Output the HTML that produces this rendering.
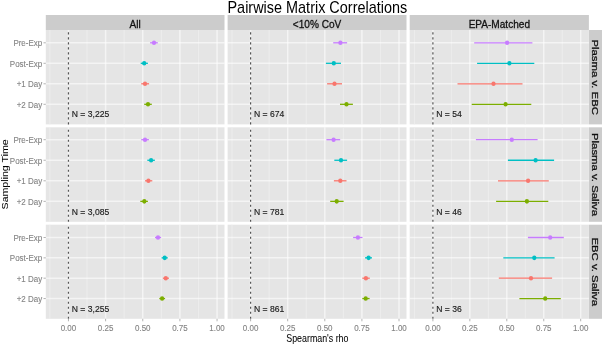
<!DOCTYPE html><html><head><meta charset="utf-8"><style>html,body{margin:0;padding:0;background:#fff;overflow:hidden}svg{display:block}text{font-family:"Liberation Sans",sans-serif}</style></head><body>
<svg width="602" height="344" viewBox="0 0 602 344">
<rect width="602" height="344" fill="#fff"/>
<defs><filter id="b" x="0" y="0" width="1" height="1"><feGaussianBlur stdDeviation="0.4" edgeMode="duplicate"/></filter></defs><g filter="url(#b)"><rect width="602" height="344" fill="#fff"/>
<text transform="translate(317.35,12.6) scale(0.92,1)" text-anchor="middle" font-size="15.7" fill="#000">Pairwise Matrix Correlations</text>
<rect x="45.8" y="15" width="178.7" height="15" fill="#CCCCCC"/>
<text transform="translate(135.15,27.6) scale(0.9,1)" text-anchor="middle" font-size="11.2" fill="#111" stroke="#111" stroke-width="0.3">All</text>
<rect x="227.6" y="15" width="178.9" height="15" fill="#CCCCCC"/>
<text transform="translate(317.05,27.6) scale(0.9,1)" text-anchor="middle" font-size="11.2" fill="#111" stroke="#111" stroke-width="0.3">&lt;10% CoV</text>
<rect x="409.7" y="15" width="179.2" height="15" fill="#CCCCCC"/>
<text transform="translate(499.3,27.6) scale(0.9,1)" text-anchor="middle" font-size="11.2" fill="#111" stroke="#111" stroke-width="0.3">EPA-Matched</text>
<rect x="588.9" y="30" width="13.1" height="94.4" fill="#CCCCCC"/>
<text transform="translate(591.6,77.2) scale(0.855,1) rotate(90)" text-anchor="middle" font-size="11.37" fill="#111" stroke="#111" stroke-width="0.3">Plasma v. EBC</text>
<rect x="588.9" y="127.3" width="13.1" height="94.5" fill="#CCCCCC"/>
<text transform="translate(591.6,174.55) scale(0.855,1) rotate(90)" text-anchor="middle" font-size="11.37" fill="#111" stroke="#111" stroke-width="0.3">Plasma v. Saliva</text>
<rect x="588.9" y="224.7" width="13.1" height="94.1" fill="#CCCCCC"/>
<text transform="translate(591.6,271.75) scale(0.855,1) rotate(90)" text-anchor="middle" font-size="11.37" fill="#111" stroke="#111" stroke-width="0.3">EBC v. Saliva</text>
<rect x="45.8" y="30" width="178.7" height="94.4" fill="#E5E5E5"/>
<line x1="49.88" y1="30" x2="49.88" y2="124.4" stroke="#EFEFEF" stroke-width="0.8"/>
<line x1="87.03" y1="30" x2="87.03" y2="124.4" stroke="#EFEFEF" stroke-width="0.8"/>
<line x1="124.17" y1="30" x2="124.17" y2="124.4" stroke="#EFEFEF" stroke-width="0.8"/>
<line x1="161.32" y1="30" x2="161.32" y2="124.4" stroke="#EFEFEF" stroke-width="0.8"/>
<line x1="198.48" y1="30" x2="198.48" y2="124.4" stroke="#EFEFEF" stroke-width="0.8"/>
<g stroke="#fff" stroke-width="1.5" stroke-opacity="0.58">
<line x1="68.45" y1="30" x2="68.45" y2="124.4"/>
<line x1="105.6" y1="30" x2="105.6" y2="124.4"/>
<line x1="142.75" y1="30" x2="142.75" y2="124.4"/>
<line x1="179.9" y1="30" x2="179.9" y2="124.4"/>
<line x1="217.05" y1="30" x2="217.05" y2="124.4"/>
<line x1="45.8" y1="42.8" x2="224.5" y2="42.8"/>
<line x1="45.8" y1="63.3" x2="224.5" y2="63.3"/>
<line x1="45.8" y1="83.8" x2="224.5" y2="83.8"/>
<line x1="45.8" y1="104.3" x2="224.5" y2="104.3"/>
</g>
<line x1="68.45" y1="124.4" x2="68.45" y2="30" stroke="#555" stroke-width="1.2" stroke-dasharray="2.1 2.9"/>
<line x1="150.1" y1="42.8" x2="157.8" y2="42.8" stroke="#C77CFF" stroke-width="1.3"/>
<ellipse cx="154" cy="42.8" rx="2.12" ry="2.3" fill="#C77CFF"/>
<line x1="140.7" y1="63.3" x2="147.9" y2="63.3" stroke="#00BFC4" stroke-width="1.3"/>
<ellipse cx="144.2" cy="63.3" rx="2.12" ry="2.3" fill="#00BFC4"/>
<line x1="141.2" y1="83.8" x2="149.1" y2="83.8" stroke="#F8766D" stroke-width="1.3"/>
<ellipse cx="145" cy="83.8" rx="2.12" ry="2.3" fill="#F8766D"/>
<line x1="144.2" y1="104.3" x2="151.8" y2="104.3" stroke="#7CAE00" stroke-width="1.3"/>
<ellipse cx="148" cy="104.3" rx="2.12" ry="2.3" fill="#7CAE00"/>
<text transform="translate(71.75,117.2) scale(0.92,1)" font-size="9.35" font-weight="normal" fill="#1a1a1a" stroke="#1a1a1a" stroke-width="0.15">N = 3,225</text>
<rect x="227.6" y="30" width="178.9" height="94.4" fill="#E5E5E5"/>
<line x1="232.05" y1="30" x2="232.05" y2="124.4" stroke="#EFEFEF" stroke-width="0.8"/>
<line x1="269.15" y1="30" x2="269.15" y2="124.4" stroke="#EFEFEF" stroke-width="0.8"/>
<line x1="306.25" y1="30" x2="306.25" y2="124.4" stroke="#EFEFEF" stroke-width="0.8"/>
<line x1="343.35" y1="30" x2="343.35" y2="124.4" stroke="#EFEFEF" stroke-width="0.8"/>
<line x1="380.45" y1="30" x2="380.45" y2="124.4" stroke="#EFEFEF" stroke-width="0.8"/>
<g stroke="#fff" stroke-width="1.5" stroke-opacity="0.58">
<line x1="250.6" y1="30" x2="250.6" y2="124.4"/>
<line x1="287.7" y1="30" x2="287.7" y2="124.4"/>
<line x1="324.8" y1="30" x2="324.8" y2="124.4"/>
<line x1="361.9" y1="30" x2="361.9" y2="124.4"/>
<line x1="399" y1="30" x2="399" y2="124.4"/>
<line x1="227.6" y1="42.8" x2="406.5" y2="42.8"/>
<line x1="227.6" y1="63.3" x2="406.5" y2="63.3"/>
<line x1="227.6" y1="83.8" x2="406.5" y2="83.8"/>
<line x1="227.6" y1="104.3" x2="406.5" y2="104.3"/>
</g>
<line x1="250.6" y1="124.4" x2="250.6" y2="30" stroke="#555" stroke-width="1.2" stroke-dasharray="2.1 2.9"/>
<line x1="333.2" y1="42.8" x2="347.1" y2="42.8" stroke="#C77CFF" stroke-width="1.3"/>
<ellipse cx="340.4" cy="42.8" rx="2.12" ry="2.3" fill="#C77CFF"/>
<line x1="325.9" y1="63.3" x2="341" y2="63.3" stroke="#00BFC4" stroke-width="1.3"/>
<ellipse cx="333.8" cy="63.3" rx="2.12" ry="2.3" fill="#00BFC4"/>
<line x1="327.1" y1="83.8" x2="342" y2="83.8" stroke="#F8766D" stroke-width="1.3"/>
<ellipse cx="334.5" cy="83.8" rx="2.12" ry="2.3" fill="#F8766D"/>
<line x1="340" y1="104.3" x2="352.9" y2="104.3" stroke="#7CAE00" stroke-width="1.3"/>
<ellipse cx="346.5" cy="104.3" rx="2.12" ry="2.3" fill="#7CAE00"/>
<text transform="translate(253.9,117.2) scale(0.92,1)" font-size="9.35" font-weight="normal" fill="#1a1a1a" stroke="#1a1a1a" stroke-width="0.15">N = 674</text>
<rect x="409.7" y="30" width="179.2" height="94.4" fill="#E5E5E5"/>
<line x1="414.42" y1="30" x2="414.42" y2="124.4" stroke="#EFEFEF" stroke-width="0.8"/>
<line x1="451.38" y1="30" x2="451.38" y2="124.4" stroke="#EFEFEF" stroke-width="0.8"/>
<line x1="488.32" y1="30" x2="488.32" y2="124.4" stroke="#EFEFEF" stroke-width="0.8"/>
<line x1="525.27" y1="30" x2="525.27" y2="124.4" stroke="#EFEFEF" stroke-width="0.8"/>
<line x1="562.23" y1="30" x2="562.23" y2="124.4" stroke="#EFEFEF" stroke-width="0.8"/>
<g stroke="#fff" stroke-width="1.5" stroke-opacity="0.58">
<line x1="432.9" y1="30" x2="432.9" y2="124.4"/>
<line x1="469.85" y1="30" x2="469.85" y2="124.4"/>
<line x1="506.8" y1="30" x2="506.8" y2="124.4"/>
<line x1="543.75" y1="30" x2="543.75" y2="124.4"/>
<line x1="580.7" y1="30" x2="580.7" y2="124.4"/>
<line x1="409.7" y1="42.8" x2="588.9" y2="42.8"/>
<line x1="409.7" y1="63.3" x2="588.9" y2="63.3"/>
<line x1="409.7" y1="83.8" x2="588.9" y2="83.8"/>
<line x1="409.7" y1="104.3" x2="588.9" y2="104.3"/>
</g>
<line x1="432.9" y1="124.4" x2="432.9" y2="30" stroke="#555" stroke-width="1.2" stroke-dasharray="2.1 2.9"/>
<line x1="474.2" y1="42.8" x2="532.4" y2="42.8" stroke="#C77CFF" stroke-width="1.3"/>
<ellipse cx="507.1" cy="42.8" rx="2.12" ry="2.3" fill="#C77CFF"/>
<line x1="477.1" y1="63.3" x2="534.3" y2="63.3" stroke="#00BFC4" stroke-width="1.3"/>
<ellipse cx="509.4" cy="63.3" rx="2.12" ry="2.3" fill="#00BFC4"/>
<line x1="457.5" y1="83.8" x2="522.5" y2="83.8" stroke="#F8766D" stroke-width="1.3"/>
<ellipse cx="493.5" cy="83.8" rx="2.12" ry="2.3" fill="#F8766D"/>
<line x1="471.7" y1="104.3" x2="531.3" y2="104.3" stroke="#7CAE00" stroke-width="1.3"/>
<ellipse cx="505.6" cy="104.3" rx="2.12" ry="2.3" fill="#7CAE00"/>
<text transform="translate(436.2,117.2) scale(0.92,1)" font-size="9.35" font-weight="normal" fill="#1a1a1a" stroke="#1a1a1a" stroke-width="0.15">N = 54</text>
<rect x="45.8" y="127.3" width="178.7" height="94.5" fill="#E5E5E5"/>
<line x1="49.88" y1="127.3" x2="49.88" y2="221.8" stroke="#EFEFEF" stroke-width="0.8"/>
<line x1="87.03" y1="127.3" x2="87.03" y2="221.8" stroke="#EFEFEF" stroke-width="0.8"/>
<line x1="124.17" y1="127.3" x2="124.17" y2="221.8" stroke="#EFEFEF" stroke-width="0.8"/>
<line x1="161.32" y1="127.3" x2="161.32" y2="221.8" stroke="#EFEFEF" stroke-width="0.8"/>
<line x1="198.48" y1="127.3" x2="198.48" y2="221.8" stroke="#EFEFEF" stroke-width="0.8"/>
<g stroke="#fff" stroke-width="1.5" stroke-opacity="0.58">
<line x1="68.45" y1="127.3" x2="68.45" y2="221.8"/>
<line x1="105.6" y1="127.3" x2="105.6" y2="221.8"/>
<line x1="142.75" y1="127.3" x2="142.75" y2="221.8"/>
<line x1="179.9" y1="127.3" x2="179.9" y2="221.8"/>
<line x1="217.05" y1="127.3" x2="217.05" y2="221.8"/>
<line x1="45.8" y1="139.7" x2="224.5" y2="139.7"/>
<line x1="45.8" y1="160.25" x2="224.5" y2="160.25"/>
<line x1="45.8" y1="180.8" x2="224.5" y2="180.8"/>
<line x1="45.8" y1="201.35" x2="224.5" y2="201.35"/>
</g>
<line x1="68.45" y1="221.8" x2="68.45" y2="127.3" stroke="#555" stroke-width="1.2" stroke-dasharray="2.1 2.9"/>
<line x1="141.2" y1="139.7" x2="148.9" y2="139.7" stroke="#C77CFF" stroke-width="1.3"/>
<ellipse cx="145" cy="139.7" rx="2.12" ry="2.3" fill="#C77CFF"/>
<line x1="147.3" y1="160.25" x2="154.9" y2="160.25" stroke="#00BFC4" stroke-width="1.3"/>
<ellipse cx="151.1" cy="160.25" rx="2.12" ry="2.3" fill="#00BFC4"/>
<line x1="145" y1="180.8" x2="152.3" y2="180.8" stroke="#F8766D" stroke-width="1.3"/>
<ellipse cx="148.4" cy="180.8" rx="2.12" ry="2.3" fill="#F8766D"/>
<line x1="140.3" y1="201.35" x2="147.9" y2="201.35" stroke="#7CAE00" stroke-width="1.3"/>
<ellipse cx="144.3" cy="201.35" rx="2.12" ry="2.3" fill="#7CAE00"/>
<text transform="translate(71.75,214.5) scale(0.92,1)" font-size="9.35" font-weight="normal" fill="#1a1a1a" stroke="#1a1a1a" stroke-width="0.15">N = 3,085</text>
<rect x="227.6" y="127.3" width="178.9" height="94.5" fill="#E5E5E5"/>
<line x1="232.05" y1="127.3" x2="232.05" y2="221.8" stroke="#EFEFEF" stroke-width="0.8"/>
<line x1="269.15" y1="127.3" x2="269.15" y2="221.8" stroke="#EFEFEF" stroke-width="0.8"/>
<line x1="306.25" y1="127.3" x2="306.25" y2="221.8" stroke="#EFEFEF" stroke-width="0.8"/>
<line x1="343.35" y1="127.3" x2="343.35" y2="221.8" stroke="#EFEFEF" stroke-width="0.8"/>
<line x1="380.45" y1="127.3" x2="380.45" y2="221.8" stroke="#EFEFEF" stroke-width="0.8"/>
<g stroke="#fff" stroke-width="1.5" stroke-opacity="0.58">
<line x1="250.6" y1="127.3" x2="250.6" y2="221.8"/>
<line x1="287.7" y1="127.3" x2="287.7" y2="221.8"/>
<line x1="324.8" y1="127.3" x2="324.8" y2="221.8"/>
<line x1="361.9" y1="127.3" x2="361.9" y2="221.8"/>
<line x1="399" y1="127.3" x2="399" y2="221.8"/>
<line x1="227.6" y1="139.7" x2="406.5" y2="139.7"/>
<line x1="227.6" y1="160.25" x2="406.5" y2="160.25"/>
<line x1="227.6" y1="180.8" x2="406.5" y2="180.8"/>
<line x1="227.6" y1="201.35" x2="406.5" y2="201.35"/>
</g>
<line x1="250.6" y1="221.8" x2="250.6" y2="127.3" stroke="#555" stroke-width="1.2" stroke-dasharray="2.1 2.9"/>
<line x1="326.4" y1="139.7" x2="340.2" y2="139.7" stroke="#C77CFF" stroke-width="1.3"/>
<ellipse cx="333.6" cy="139.7" rx="2.12" ry="2.3" fill="#C77CFF"/>
<line x1="334.3" y1="160.25" x2="347.1" y2="160.25" stroke="#00BFC4" stroke-width="1.3"/>
<ellipse cx="341" cy="160.25" rx="2.12" ry="2.3" fill="#00BFC4"/>
<line x1="333.9" y1="180.8" x2="346.5" y2="180.8" stroke="#F8766D" stroke-width="1.3"/>
<ellipse cx="340.3" cy="180.8" rx="2.12" ry="2.3" fill="#F8766D"/>
<line x1="330.2" y1="201.35" x2="343.6" y2="201.35" stroke="#7CAE00" stroke-width="1.3"/>
<ellipse cx="336.7" cy="201.35" rx="2.12" ry="2.3" fill="#7CAE00"/>
<text transform="translate(253.9,214.5) scale(0.92,1)" font-size="9.35" font-weight="normal" fill="#1a1a1a" stroke="#1a1a1a" stroke-width="0.15">N = 781</text>
<rect x="409.7" y="127.3" width="179.2" height="94.5" fill="#E5E5E5"/>
<line x1="414.42" y1="127.3" x2="414.42" y2="221.8" stroke="#EFEFEF" stroke-width="0.8"/>
<line x1="451.38" y1="127.3" x2="451.38" y2="221.8" stroke="#EFEFEF" stroke-width="0.8"/>
<line x1="488.32" y1="127.3" x2="488.32" y2="221.8" stroke="#EFEFEF" stroke-width="0.8"/>
<line x1="525.27" y1="127.3" x2="525.27" y2="221.8" stroke="#EFEFEF" stroke-width="0.8"/>
<line x1="562.23" y1="127.3" x2="562.23" y2="221.8" stroke="#EFEFEF" stroke-width="0.8"/>
<g stroke="#fff" stroke-width="1.5" stroke-opacity="0.58">
<line x1="432.9" y1="127.3" x2="432.9" y2="221.8"/>
<line x1="469.85" y1="127.3" x2="469.85" y2="221.8"/>
<line x1="506.8" y1="127.3" x2="506.8" y2="221.8"/>
<line x1="543.75" y1="127.3" x2="543.75" y2="221.8"/>
<line x1="580.7" y1="127.3" x2="580.7" y2="221.8"/>
<line x1="409.7" y1="139.7" x2="588.9" y2="139.7"/>
<line x1="409.7" y1="160.25" x2="588.9" y2="160.25"/>
<line x1="409.7" y1="180.8" x2="588.9" y2="180.8"/>
<line x1="409.7" y1="201.35" x2="588.9" y2="201.35"/>
</g>
<line x1="432.9" y1="221.8" x2="432.9" y2="127.3" stroke="#555" stroke-width="1.2" stroke-dasharray="2.1 2.9"/>
<line x1="475.9" y1="139.7" x2="537.6" y2="139.7" stroke="#C77CFF" stroke-width="1.3"/>
<ellipse cx="511.8" cy="139.7" rx="2.12" ry="2.3" fill="#C77CFF"/>
<line x1="507.9" y1="160.25" x2="554.1" y2="160.25" stroke="#00BFC4" stroke-width="1.3"/>
<ellipse cx="535.6" cy="160.25" rx="2.12" ry="2.3" fill="#00BFC4"/>
<line x1="498" y1="180.8" x2="548.8" y2="180.8" stroke="#F8766D" stroke-width="1.3"/>
<ellipse cx="528.1" cy="180.8" rx="2.12" ry="2.3" fill="#F8766D"/>
<line x1="496.1" y1="201.35" x2="548.3" y2="201.35" stroke="#7CAE00" stroke-width="1.3"/>
<ellipse cx="526.9" cy="201.35" rx="2.12" ry="2.3" fill="#7CAE00"/>
<text transform="translate(436.2,214.5) scale(0.92,1)" font-size="9.35" font-weight="normal" fill="#1a1a1a" stroke="#1a1a1a" stroke-width="0.15">N = 46</text>
<rect x="45.8" y="224.7" width="178.7" height="94.1" fill="#E5E5E5"/>
<line x1="49.88" y1="224.7" x2="49.88" y2="318.8" stroke="#EFEFEF" stroke-width="0.8"/>
<line x1="87.03" y1="224.7" x2="87.03" y2="318.8" stroke="#EFEFEF" stroke-width="0.8"/>
<line x1="124.17" y1="224.7" x2="124.17" y2="318.8" stroke="#EFEFEF" stroke-width="0.8"/>
<line x1="161.32" y1="224.7" x2="161.32" y2="318.8" stroke="#EFEFEF" stroke-width="0.8"/>
<line x1="198.48" y1="224.7" x2="198.48" y2="318.8" stroke="#EFEFEF" stroke-width="0.8"/>
<g stroke="#fff" stroke-width="1.5" stroke-opacity="0.58">
<line x1="68.45" y1="224.7" x2="68.45" y2="318.8"/>
<line x1="105.6" y1="224.7" x2="105.6" y2="318.8"/>
<line x1="142.75" y1="224.7" x2="142.75" y2="318.8"/>
<line x1="179.9" y1="224.7" x2="179.9" y2="318.8"/>
<line x1="217.05" y1="224.7" x2="217.05" y2="318.8"/>
<line x1="45.8" y1="237.5" x2="224.5" y2="237.5"/>
<line x1="45.8" y1="257.85" x2="224.5" y2="257.85"/>
<line x1="45.8" y1="278.2" x2="224.5" y2="278.2"/>
<line x1="45.8" y1="298.55" x2="224.5" y2="298.55"/>
</g>
<line x1="68.45" y1="318.8" x2="68.45" y2="224.7" stroke="#555" stroke-width="1.2" stroke-dasharray="2.1 2.9"/>
<line x1="155" y1="237.5" x2="161.1" y2="237.5" stroke="#C77CFF" stroke-width="1.3"/>
<ellipse cx="158" cy="237.5" rx="2.12" ry="2.3" fill="#C77CFF"/>
<line x1="161.6" y1="257.85" x2="167.8" y2="257.85" stroke="#00BFC4" stroke-width="1.3"/>
<ellipse cx="164.7" cy="257.85" rx="2.12" ry="2.3" fill="#00BFC4"/>
<line x1="162.8" y1="278.2" x2="169" y2="278.2" stroke="#F8766D" stroke-width="1.3"/>
<ellipse cx="165.8" cy="278.2" rx="2.12" ry="2.3" fill="#F8766D"/>
<line x1="159.3" y1="298.55" x2="165.1" y2="298.55" stroke="#7CAE00" stroke-width="1.3"/>
<ellipse cx="162.1" cy="298.55" rx="2.12" ry="2.3" fill="#7CAE00"/>
<text transform="translate(71.75,311.9) scale(0.92,1)" font-size="9.35" font-weight="normal" fill="#1a1a1a" stroke="#1a1a1a" stroke-width="0.15">N = 3,255</text>
<rect x="227.6" y="224.7" width="178.9" height="94.1" fill="#E5E5E5"/>
<line x1="232.05" y1="224.7" x2="232.05" y2="318.8" stroke="#EFEFEF" stroke-width="0.8"/>
<line x1="269.15" y1="224.7" x2="269.15" y2="318.8" stroke="#EFEFEF" stroke-width="0.8"/>
<line x1="306.25" y1="224.7" x2="306.25" y2="318.8" stroke="#EFEFEF" stroke-width="0.8"/>
<line x1="343.35" y1="224.7" x2="343.35" y2="318.8" stroke="#EFEFEF" stroke-width="0.8"/>
<line x1="380.45" y1="224.7" x2="380.45" y2="318.8" stroke="#EFEFEF" stroke-width="0.8"/>
<g stroke="#fff" stroke-width="1.5" stroke-opacity="0.58">
<line x1="250.6" y1="224.7" x2="250.6" y2="318.8"/>
<line x1="287.7" y1="224.7" x2="287.7" y2="318.8"/>
<line x1="324.8" y1="224.7" x2="324.8" y2="318.8"/>
<line x1="361.9" y1="224.7" x2="361.9" y2="318.8"/>
<line x1="399" y1="224.7" x2="399" y2="318.8"/>
<line x1="227.6" y1="237.5" x2="406.5" y2="237.5"/>
<line x1="227.6" y1="257.85" x2="406.5" y2="257.85"/>
<line x1="227.6" y1="278.2" x2="406.5" y2="278.2"/>
<line x1="227.6" y1="298.55" x2="406.5" y2="298.55"/>
</g>
<line x1="250.6" y1="318.8" x2="250.6" y2="224.7" stroke="#555" stroke-width="1.2" stroke-dasharray="2.1 2.9"/>
<line x1="353.1" y1="237.5" x2="362.5" y2="237.5" stroke="#C77CFF" stroke-width="1.3"/>
<ellipse cx="357.9" cy="237.5" rx="2.12" ry="2.3" fill="#C77CFF"/>
<line x1="365" y1="257.85" x2="372" y2="257.85" stroke="#00BFC4" stroke-width="1.3"/>
<ellipse cx="368.6" cy="257.85" rx="2.12" ry="2.3" fill="#00BFC4"/>
<line x1="362.3" y1="278.2" x2="369.8" y2="278.2" stroke="#F8766D" stroke-width="1.3"/>
<ellipse cx="365.9" cy="278.2" rx="2.12" ry="2.3" fill="#F8766D"/>
<line x1="362.3" y1="298.55" x2="369.6" y2="298.55" stroke="#7CAE00" stroke-width="1.3"/>
<ellipse cx="365.7" cy="298.55" rx="2.12" ry="2.3" fill="#7CAE00"/>
<text transform="translate(253.9,311.9) scale(0.92,1)" font-size="9.35" font-weight="normal" fill="#1a1a1a" stroke="#1a1a1a" stroke-width="0.15">N = 861</text>
<rect x="409.7" y="224.7" width="179.2" height="94.1" fill="#E5E5E5"/>
<line x1="414.42" y1="224.7" x2="414.42" y2="318.8" stroke="#EFEFEF" stroke-width="0.8"/>
<line x1="451.38" y1="224.7" x2="451.38" y2="318.8" stroke="#EFEFEF" stroke-width="0.8"/>
<line x1="488.32" y1="224.7" x2="488.32" y2="318.8" stroke="#EFEFEF" stroke-width="0.8"/>
<line x1="525.27" y1="224.7" x2="525.27" y2="318.8" stroke="#EFEFEF" stroke-width="0.8"/>
<line x1="562.23" y1="224.7" x2="562.23" y2="318.8" stroke="#EFEFEF" stroke-width="0.8"/>
<g stroke="#fff" stroke-width="1.5" stroke-opacity="0.58">
<line x1="432.9" y1="224.7" x2="432.9" y2="318.8"/>
<line x1="469.85" y1="224.7" x2="469.85" y2="318.8"/>
<line x1="506.8" y1="224.7" x2="506.8" y2="318.8"/>
<line x1="543.75" y1="224.7" x2="543.75" y2="318.8"/>
<line x1="580.7" y1="224.7" x2="580.7" y2="318.8"/>
<line x1="409.7" y1="237.5" x2="588.9" y2="237.5"/>
<line x1="409.7" y1="257.85" x2="588.9" y2="257.85"/>
<line x1="409.7" y1="278.2" x2="588.9" y2="278.2"/>
<line x1="409.7" y1="298.55" x2="588.9" y2="298.55"/>
</g>
<line x1="432.9" y1="318.8" x2="432.9" y2="224.7" stroke="#555" stroke-width="1.2" stroke-dasharray="2.1 2.9"/>
<line x1="527.9" y1="237.5" x2="563.8" y2="237.5" stroke="#C77CFF" stroke-width="1.3"/>
<ellipse cx="550.2" cy="237.5" rx="2.12" ry="2.3" fill="#C77CFF"/>
<line x1="503.3" y1="257.85" x2="554.6" y2="257.85" stroke="#00BFC4" stroke-width="1.3"/>
<ellipse cx="534.3" cy="257.85" rx="2.12" ry="2.3" fill="#00BFC4"/>
<line x1="498.8" y1="278.2" x2="552.1" y2="278.2" stroke="#F8766D" stroke-width="1.3"/>
<ellipse cx="531" cy="278.2" rx="2.12" ry="2.3" fill="#F8766D"/>
<line x1="519.4" y1="298.55" x2="560.8" y2="298.55" stroke="#7CAE00" stroke-width="1.3"/>
<ellipse cx="545.2" cy="298.55" rx="2.12" ry="2.3" fill="#7CAE00"/>
<text transform="translate(436.2,311.9) scale(0.92,1)" font-size="9.35" font-weight="normal" fill="#1a1a1a" stroke="#1a1a1a" stroke-width="0.15">N = 36</text>
<line x1="43.5" y1="42.8" x2="45.8" y2="42.8" stroke="#aaaaaa" stroke-width="0.9"/>
<text transform="translate(42.2,46.4) scale(0.815,1)" text-anchor="end" font-size="9.8" fill="#838383" stroke="#838383" stroke-width="0.12">Pre-Exp</text>
<line x1="43.5" y1="63.3" x2="45.8" y2="63.3" stroke="#aaaaaa" stroke-width="0.9"/>
<text transform="translate(42.2,66.9) scale(0.815,1)" text-anchor="end" font-size="9.8" fill="#838383" stroke="#838383" stroke-width="0.12">Post-Exp</text>
<line x1="43.5" y1="83.8" x2="45.8" y2="83.8" stroke="#aaaaaa" stroke-width="0.9"/>
<text transform="translate(42.2,87.4) scale(0.815,1)" text-anchor="end" font-size="9.8" fill="#838383" stroke="#838383" stroke-width="0.12">+1 Day</text>
<line x1="43.5" y1="104.3" x2="45.8" y2="104.3" stroke="#aaaaaa" stroke-width="0.9"/>
<text transform="translate(42.2,107.9) scale(0.815,1)" text-anchor="end" font-size="9.8" fill="#838383" stroke="#838383" stroke-width="0.12">+2 Day</text>
<line x1="43.5" y1="139.7" x2="45.8" y2="139.7" stroke="#aaaaaa" stroke-width="0.9"/>
<text transform="translate(42.2,143.3) scale(0.815,1)" text-anchor="end" font-size="9.8" fill="#838383" stroke="#838383" stroke-width="0.12">Pre-Exp</text>
<line x1="43.5" y1="160.25" x2="45.8" y2="160.25" stroke="#aaaaaa" stroke-width="0.9"/>
<text transform="translate(42.2,163.85) scale(0.815,1)" text-anchor="end" font-size="9.8" fill="#838383" stroke="#838383" stroke-width="0.12">Post-Exp</text>
<line x1="43.5" y1="180.8" x2="45.8" y2="180.8" stroke="#aaaaaa" stroke-width="0.9"/>
<text transform="translate(42.2,184.4) scale(0.815,1)" text-anchor="end" font-size="9.8" fill="#838383" stroke="#838383" stroke-width="0.12">+1 Day</text>
<line x1="43.5" y1="201.35" x2="45.8" y2="201.35" stroke="#aaaaaa" stroke-width="0.9"/>
<text transform="translate(42.2,204.95) scale(0.815,1)" text-anchor="end" font-size="9.8" fill="#838383" stroke="#838383" stroke-width="0.12">+2 Day</text>
<line x1="43.5" y1="237.5" x2="45.8" y2="237.5" stroke="#aaaaaa" stroke-width="0.9"/>
<text transform="translate(42.2,241.1) scale(0.815,1)" text-anchor="end" font-size="9.8" fill="#838383" stroke="#838383" stroke-width="0.12">Pre-Exp</text>
<line x1="43.5" y1="257.85" x2="45.8" y2="257.85" stroke="#aaaaaa" stroke-width="0.9"/>
<text transform="translate(42.2,261.45) scale(0.815,1)" text-anchor="end" font-size="9.8" fill="#838383" stroke="#838383" stroke-width="0.12">Post-Exp</text>
<line x1="43.5" y1="278.2" x2="45.8" y2="278.2" stroke="#aaaaaa" stroke-width="0.9"/>
<text transform="translate(42.2,281.8) scale(0.815,1)" text-anchor="end" font-size="9.8" fill="#838383" stroke="#838383" stroke-width="0.12">+1 Day</text>
<line x1="43.5" y1="298.55" x2="45.8" y2="298.55" stroke="#aaaaaa" stroke-width="0.9"/>
<text transform="translate(42.2,302.15) scale(0.815,1)" text-anchor="end" font-size="9.8" fill="#838383" stroke="#838383" stroke-width="0.12">+2 Day</text>
<line x1="68.45" y1="318.8" x2="68.45" y2="321.3" stroke="#aaaaaa" stroke-width="0.9"/>
<text transform="translate(68.45,331) scale(0.815,1)" text-anchor="middle" font-size="9.8" fill="#838383" stroke="#838383" stroke-width="0.12">0.00</text>
<line x1="105.6" y1="318.8" x2="105.6" y2="321.3" stroke="#aaaaaa" stroke-width="0.9"/>
<text transform="translate(105.6,331) scale(0.815,1)" text-anchor="middle" font-size="9.8" fill="#838383" stroke="#838383" stroke-width="0.12">0.25</text>
<line x1="142.75" y1="318.8" x2="142.75" y2="321.3" stroke="#aaaaaa" stroke-width="0.9"/>
<text transform="translate(142.75,331) scale(0.815,1)" text-anchor="middle" font-size="9.8" fill="#838383" stroke="#838383" stroke-width="0.12">0.50</text>
<line x1="179.9" y1="318.8" x2="179.9" y2="321.3" stroke="#aaaaaa" stroke-width="0.9"/>
<text transform="translate(179.9,331) scale(0.815,1)" text-anchor="middle" font-size="9.8" fill="#838383" stroke="#838383" stroke-width="0.12">0.75</text>
<line x1="217.05" y1="318.8" x2="217.05" y2="321.3" stroke="#aaaaaa" stroke-width="0.9"/>
<text transform="translate(217.05,331) scale(0.815,1)" text-anchor="middle" font-size="9.8" fill="#838383" stroke="#838383" stroke-width="0.12">1.00</text>
<line x1="250.6" y1="318.8" x2="250.6" y2="321.3" stroke="#aaaaaa" stroke-width="0.9"/>
<text transform="translate(250.6,331) scale(0.815,1)" text-anchor="middle" font-size="9.8" fill="#838383" stroke="#838383" stroke-width="0.12">0.00</text>
<line x1="287.7" y1="318.8" x2="287.7" y2="321.3" stroke="#aaaaaa" stroke-width="0.9"/>
<text transform="translate(287.7,331) scale(0.815,1)" text-anchor="middle" font-size="9.8" fill="#838383" stroke="#838383" stroke-width="0.12">0.25</text>
<line x1="324.8" y1="318.8" x2="324.8" y2="321.3" stroke="#aaaaaa" stroke-width="0.9"/>
<text transform="translate(324.8,331) scale(0.815,1)" text-anchor="middle" font-size="9.8" fill="#838383" stroke="#838383" stroke-width="0.12">0.50</text>
<line x1="361.9" y1="318.8" x2="361.9" y2="321.3" stroke="#aaaaaa" stroke-width="0.9"/>
<text transform="translate(361.9,331) scale(0.815,1)" text-anchor="middle" font-size="9.8" fill="#838383" stroke="#838383" stroke-width="0.12">0.75</text>
<line x1="399" y1="318.8" x2="399" y2="321.3" stroke="#aaaaaa" stroke-width="0.9"/>
<text transform="translate(399,331) scale(0.815,1)" text-anchor="middle" font-size="9.8" fill="#838383" stroke="#838383" stroke-width="0.12">1.00</text>
<line x1="432.9" y1="318.8" x2="432.9" y2="321.3" stroke="#aaaaaa" stroke-width="0.9"/>
<text transform="translate(432.9,331) scale(0.815,1)" text-anchor="middle" font-size="9.8" fill="#838383" stroke="#838383" stroke-width="0.12">0.00</text>
<line x1="469.85" y1="318.8" x2="469.85" y2="321.3" stroke="#aaaaaa" stroke-width="0.9"/>
<text transform="translate(469.85,331) scale(0.815,1)" text-anchor="middle" font-size="9.8" fill="#838383" stroke="#838383" stroke-width="0.12">0.25</text>
<line x1="506.8" y1="318.8" x2="506.8" y2="321.3" stroke="#aaaaaa" stroke-width="0.9"/>
<text transform="translate(506.8,331) scale(0.815,1)" text-anchor="middle" font-size="9.8" fill="#838383" stroke="#838383" stroke-width="0.12">0.50</text>
<line x1="543.75" y1="318.8" x2="543.75" y2="321.3" stroke="#aaaaaa" stroke-width="0.9"/>
<text transform="translate(543.75,331) scale(0.815,1)" text-anchor="middle" font-size="9.8" fill="#838383" stroke="#838383" stroke-width="0.12">0.75</text>
<line x1="580.7" y1="318.8" x2="580.7" y2="321.3" stroke="#aaaaaa" stroke-width="0.9"/>
<text transform="translate(580.7,331) scale(0.815,1)" text-anchor="middle" font-size="9.8" fill="#838383" stroke="#838383" stroke-width="0.12">1.00</text>
<text transform="translate(317.35,341.6) scale(0.79,1)" text-anchor="middle" font-size="11.2" fill="#000" stroke="#000" stroke-width="0.05">Spearman's rho</text>
<text transform="translate(7.9,174.4) scale(0.88,1) rotate(-90)" text-anchor="middle" font-size="10.6" fill="#000" stroke="#000" stroke-width="0.05">Sampling Time</text>
</g>
</svg></body></html>
